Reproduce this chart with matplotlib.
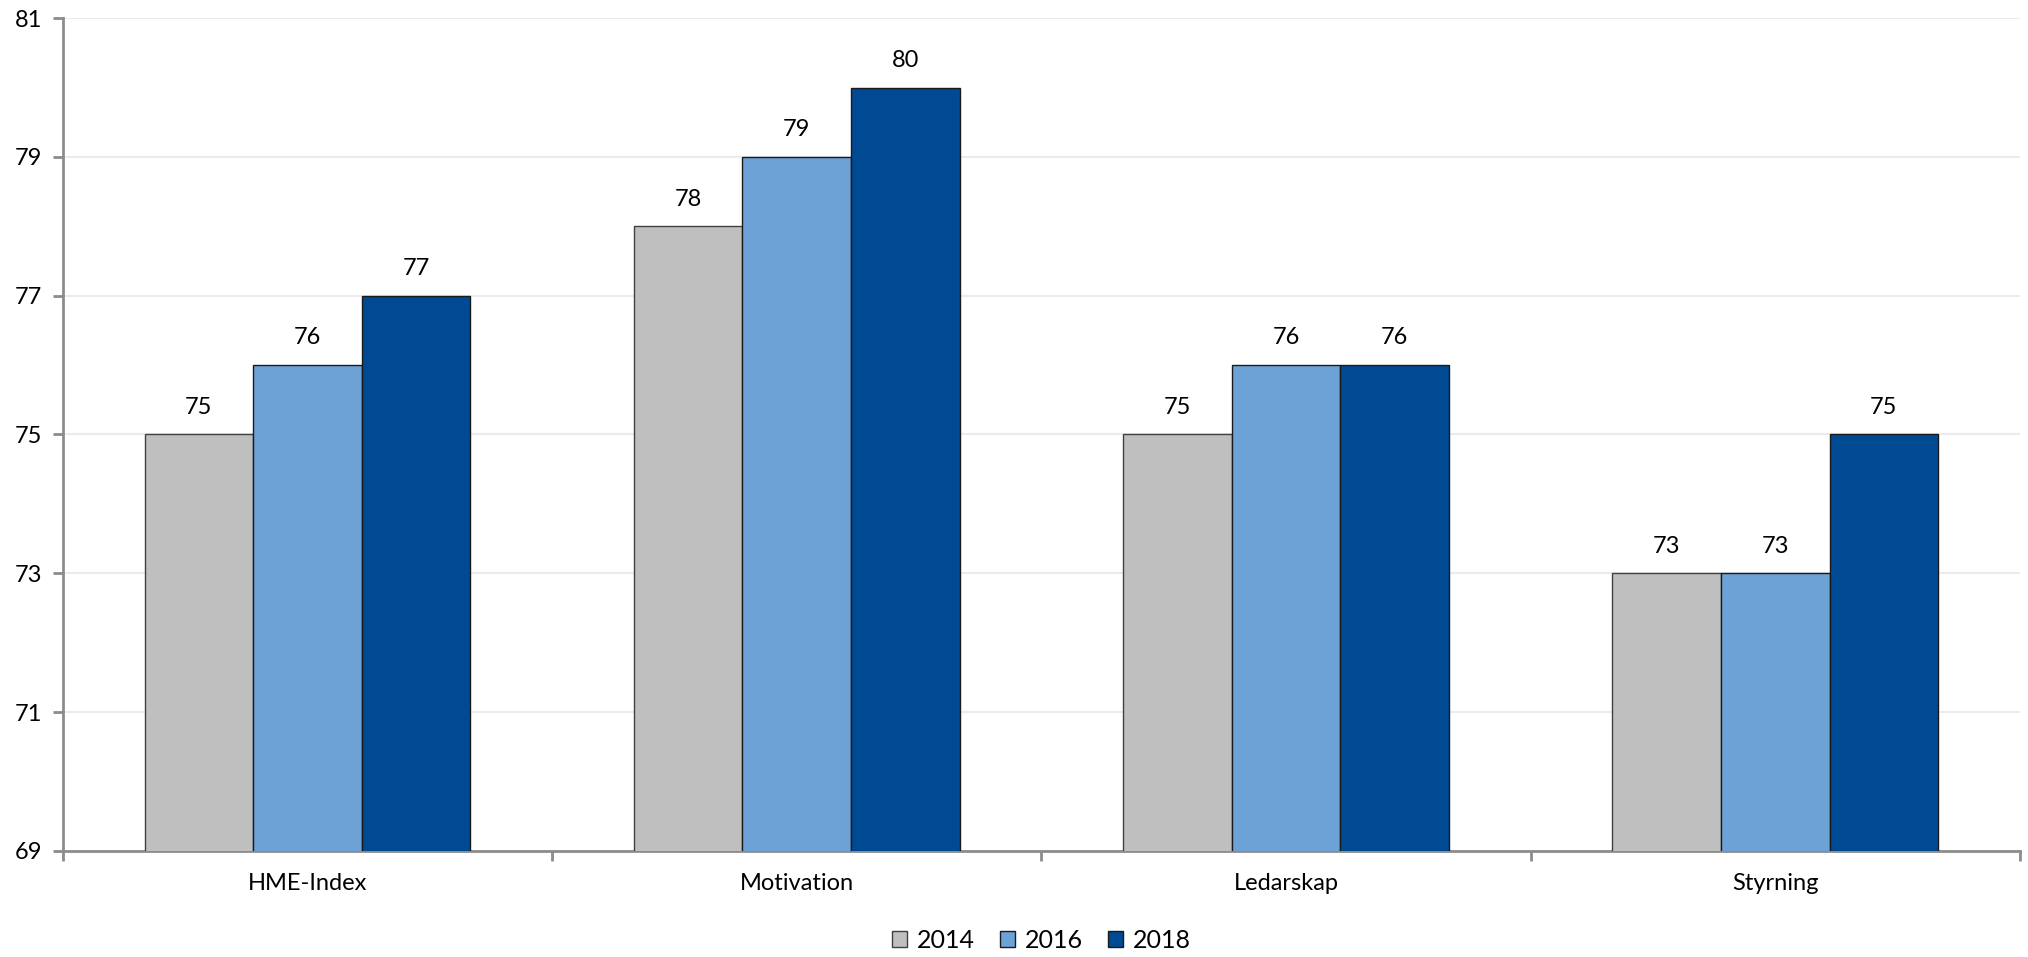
import numpy as np
import matplotlib.pyplot as plt

categories = ['HME-Index', 'Motivation', 'Ledarskap', 'Styrning']
years = ['2014', '2016', '2018']
v2014 = [75, 78, 75, 73]
v2016 = [76, 79, 76, 73]
v2018 = [77, 80, 76, 75]

colors = ['#BFBFBF', '#6CA2D6', '#004A94']
edges = ['#404040', '#1A1A1A', '#1A1A1A']

plt.rcParams['font.family'] = ['Lato', 'DejaVu Sans']

fig = plt.figure(figsize=(20.28, 9.57), dpi=100)
ax = fig.add_axes([0.031, 0.111, 0.965, 0.870])

x = np.arange(len(categories))
w = 0.222
series = [v2014, v2016, v2018]
for i, vals in enumerate(series):
    bars = ax.bar(x + (i - 1) * w, vals, w, bottom=0, color=colors[i],
                  edgecolor=edges[i], linewidth=1.0, label=years[i], zorder=3)
    for b, v in zip(bars, vals):
        ax.annotate(str(v), (b.get_x() + b.get_width() / 2, v),
                    xytext=(0, 12), textcoords='offset points',
                    ha='center', va='bottom', fontsize=17, color='black')

ax.set_ylim(69, 81)
ax.set_xlim(-0.5, 3.5)
ax.set_yticks(np.arange(69, 82, 2))
ax.grid(axis='y', color='#EBEBEB', linewidth=1.5, zorder=0)

# categories labelled in the middle, ticks on the boundaries
ax.set_xticks(np.arange(-0.5, 4.0, 1.0))
ax.set_xticklabels([])
ax.set_xticks(x, minor=True)
ax.set_xticklabels(categories, minor=True, fontsize=17)
ax.tick_params(axis='x', which='minor', length=0, pad=16)
ax.tick_params(axis='x', which='major', length=7, width=2, color='#8C8C8C')
ax.tick_params(axis='y', length=7, width=2, color='#8C8C8C', labelsize=17, pad=8)

for s in ['top', 'right']:
    ax.spines[s].set_visible(False)
for s in ['left', 'bottom']:
    ax.spines[s].set_color('#8C8C8C')
    ax.spines[s].set_linewidth(2)

leg = ax.legend(loc='center', bbox_to_anchor=(0.5, -0.108), ncol=3,
                frameon=False, fontsize=18, handlelength=0.6, handleheight=0.6,
                handletextpad=0.4, columnspacing=1.0)

fig.savefig('out.png', dpi=100)
